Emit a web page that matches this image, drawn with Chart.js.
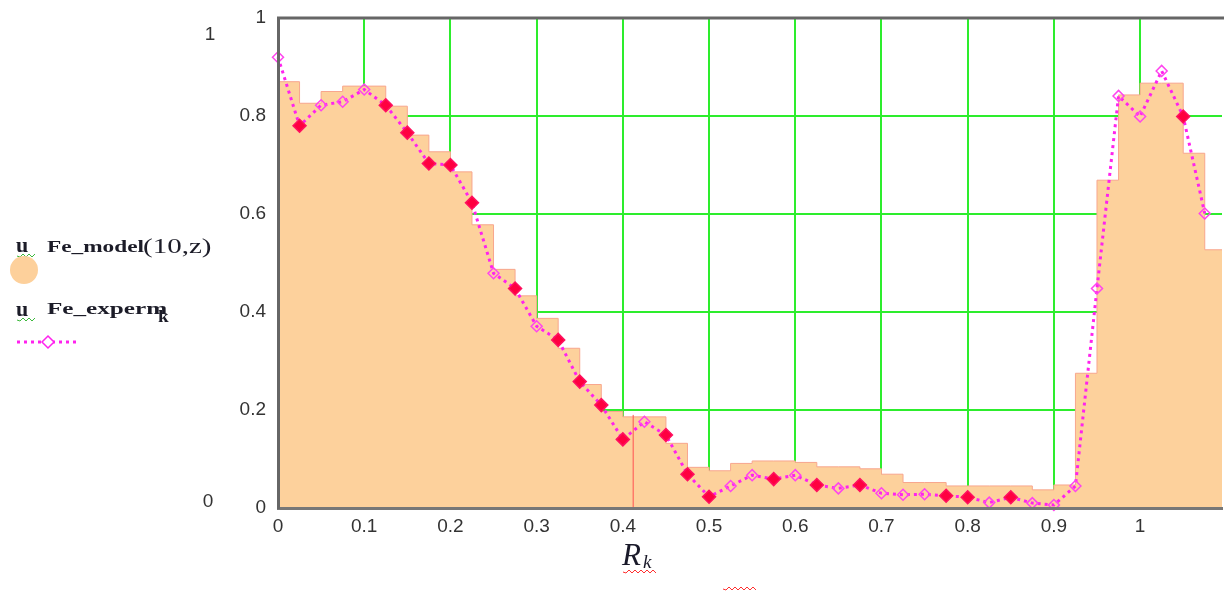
<!DOCTYPE html>
<html>
<head>
<meta charset="utf-8">
<script src="https://cdn.jsdelivr.net/npm/chart.js@4.4.1/dist/chart.umd.min.js"></script>
<style>
  html, body { margin: 0; padding: 0; background: #fff; }
  #wrap { width: 1224px; height: 591px; }
</style>
</head>
<body>
<div id="wrap"><canvas id="chart" width="1224" height="591"></canvas></div>
<script>
// R_k positions of the samples
const rPos = [0, 0.025, 0.05, 0.075, 0.1, 0.125, 0.15, 0.175, 0.2, 0.225,
              0.25, 0.275, 0.3, 0.325, 0.35, 0.375, 0.4, 0.425, 0.45, 0.475,
              0.5, 0.525, 0.55, 0.575, 0.6, 0.625, 0.65, 0.675, 0.7, 0.725,
              0.75, 0.775, 0.8, 0.825, 0.85, 0.875, 0.9, 0.925, 0.95, 0.975,
              1, 1.025, 1.05, 1.075];
const rEnd = 1.095;

// Fe_model(10,z) - step values
const feModel = [0.870, 0.826, 0.850, 0.861, 0.861, 0.820, 0.761, 0.727, 0.686, 0.578,
                 0.487, 0.433, 0.387, 0.326, 0.252, 0.197, 0.186, 0.186, 0.132, 0.083,
                 0.076, 0.091, 0.096, 0.096, 0.093, 0.084, 0.084, 0.080, 0.069, 0.052,
                 0.052, 0.045, 0.045, 0.045, 0.045, 0.037, 0.047, 0.275, 0.669, 0.843,
                 0.867, 0.867, 0.724, 0.527];

// Fe_experm_k
const feExperm = [0.920, 0.780, 0.822, 0.829, 0.854, 0.822, 0.766, 0.703, 0.700, 0.623,
                  0.479, 0.448, 0.371, 0.343, 0.258, 0.210, 0.140, 0.176, 0.149, 0.069,
                  0.023, 0.045, 0.067, 0.059, 0.067, 0.047, 0.040, 0.047, 0.030, 0.027,
                  0.028, 0.025, 0.022, 0.011, 0.022, 0.010, 0.006, 0.045, 0.448, 0.841,
                  0.799, 0.892, 0.799, 0.601];

// thin red marker line
const markX = [0.412, 0.412];
const markY = [0, 0.19];

const xTickLabels = ['0', '0.1', '0.2', '0.3', '0.4', '0.5', '0.6', '0.7', '0.8', '0.9', '1'];
const yTickLabels = ['0', '0.2', '0.4', '0.6', '0.8', '1'];

// points drawn as solid red diamonds
const solidPts = [1, 5, 6, 7, 8, 9, 11, 13, 14, 15, 16, 18, 19, 20, 23, 25, 27, 31, 32, 34, 42];

const modelData = rPos.map((x, i) => ({ x: x, y: feModel[i] }));
modelData.push({ x: rEnd, y: feModel[feModel.length - 1] });
const expData = rPos.map((x, i) => ({ x: x, y: feExperm[i] }));
const markData = markX.map((x, i) => ({ x: x, y: markY[i] }));

function squiggle(ctx, x0, x1, y, color) {
    ctx.save();
    ctx.strokeStyle = color;
    ctx.lineWidth = 1;
    ctx.beginPath();
    let up = true;
    for (let x = x0; x <= x1; x += 3) {
        if (x === x0) ctx.moveTo(x, y);
        else ctx.lineTo(x, up ? y - 2 : y + 1);
        up = !up;
    }
    ctx.stroke();
    ctx.restore();
}

function stretched(ctx, txt, x, y, font, sx) {
    ctx.save();
    ctx.translate(x, y);
    ctx.scale(sx, 1);
    ctx.font = font;
    ctx.fillText(txt, 0, 0);
    ctx.restore();
}

const decorations = {
    id: 'decorations',
    afterDraw(chart) {
        const ctx = chart.ctx;
        const a = chart.chartArea;
        ctx.save();
        // top border
        ctx.strokeStyle = '#666';
        ctx.lineWidth = 3;
        ctx.beginPath();
        ctx.moveTo(a.left - 1, a.top);
        ctx.lineTo(chart.width, a.top);
        ctx.stroke();

        ctx.textBaseline = 'alphabetic';
        ctx.textAlign = 'left';

        // legend
        ctx.fillStyle = '#1c1c28';
        ctx.font = 'bold 22px "Liberation Serif"';
        ctx.fillText('u', 16, 252);
        squiggle(ctx, 17, 35, 256, '#3cb83c');
        stretched(ctx, 'Fe_model', 47, 252, 'bold 17px "Liberation Serif"', 1.37);
        stretched(ctx, '(10,z)', 143, 253, '20px "Liberation Serif"', 1.45);

        ctx.fillStyle = '#fdd09b';
        ctx.beginPath();
        ctx.arc(24, 270, 14, 0, Math.PI * 2);
        ctx.fill();

        ctx.fillStyle = '#1c1c28';
        ctx.font = 'bold 22px "Liberation Serif"';
        ctx.fillText('u', 16, 316);
        squiggle(ctx, 17, 35, 320, '#3cb83c');
        stretched(ctx, 'Fe_experm', 47, 314, 'bold 17px "Liberation Serif"', 1.48);
        stretched(ctx, 'k', 158, 322, 'bold 16px "Liberation Serif"', 1.2);

        ctx.strokeStyle = '#ff22ee';
        ctx.lineWidth = 3;
        ctx.setLineDash([3, 4]);
        ctx.beginPath();
        ctx.moveTo(17, 342);
        ctx.lineTo(76, 342);
        ctx.stroke();
        ctx.setLineDash([]);
        ctx.lineWidth = 1.5;
        ctx.fillStyle = '#fff';
        ctx.beginPath();
        ctx.moveTo(48, 336); ctx.lineTo(54, 342); ctx.lineTo(48, 348); ctx.lineTo(42, 342);
        ctx.closePath();
        ctx.fill();
        ctx.stroke();

        // axis limit labels
        ctx.fillStyle = '#333';
        ctx.font = '19px "Liberation Sans"';
        ctx.textAlign = 'center';
        ctx.textBaseline = 'middle';
        ctx.fillText('1', 210, 35);
        ctx.fillText('0', 208, 502);

        // axis title R_k
        ctx.textAlign = 'left';
        ctx.textBaseline = 'alphabetic';
        ctx.fillStyle = '#1a1a2a';
        ctx.font = 'italic 31px "Liberation Serif"';
        ctx.fillText('R', 622, 565);
        ctx.font = 'italic 19px "Liberation Serif"';
        ctx.fillText('k', 643, 568);
        squiggle(ctx, 623, 656, 572, '#ff3030');
        squiggle(ctx, 723, 757, 589, '#ff3030');
        ctx.restore();
    }
};

const ctx1 = document.getElementById('chart').getContext('2d');
const chart = new Chart(ctx1, {
    type: 'line',
    data: {
        datasets: [
            {
                label: 'Fe_experm',
                data: expData,
                order: 0,
                borderColor: '#ff22ee',
                borderWidth: 3,
                borderDash: [3, 4],
                fill: false,
                tension: 0,
                clip: 8,
                pointStyle: 'rectRot',
                pointRadius: ctx => solidPts.includes(ctx.dataIndex) ? 6.5 : 5.5,
                pointBackgroundColor: ctx => solidPts.includes(ctx.dataIndex) ? '#ff0040' : 'rgba(255,255,255,0)',
                pointBorderColor: ctx => solidPts.includes(ctx.dataIndex) ? '#ff1060' : '#ff44ee',
                pointBorderWidth: 1.5
            },
            {
                label: 'mark',
                data: markData,
                order: 1,
                borderColor: '#ff5050',
                borderWidth: 1,
                pointRadius: 0,
                fill: false
            },
            {
                label: 'Fe_model(10,z)',
                data: modelData,
                order: 2,
                stepped: 'before',
                fill: 'origin',
                backgroundColor: '#fdd19c',
                borderColor: '#f8a68e',
                borderWidth: 1,
                pointRadius: 0,
                tension: 0
            }
        ]
    },
    options: {
        responsive: false,
        animation: false,
        events: [],
        layout: { autoPadding: false, padding: { top: 18, right: 2, left: 0, bottom: 0 } },
        scales: {
            x: {
                type: 'linear',
                min: 0,
                max: rEnd,
                afterFit: s => { s.height = 83; s.paddingLeft = 0; s.paddingRight = 0; },
                grid: { color: '#2ded2d', lineWidth: 2, drawTicks: false },
                border: { color: '#777', width: 3, z: 1 },
                ticks: {
                    stepSize: 0.1,
                    includeBounds: false,
                    padding: 7,
                    color: '#333',
                    font: { family: 'Liberation Sans', size: 19 },
                    maxRotation: 0,
                    autoSkip: false,
                    callback: (v, i) => xTickLabels[i]
                }
            },
            y: {
                min: 0,
                max: 1,
                afterFit: s => { s.width = 278; s.paddingTop = 0; s.paddingBottom = 0; },
                grid: { color: '#2ded2d', lineWidth: 2, drawTicks: false },
                border: { color: '#666', width: 3, z: 1 },
                ticks: {
                    stepSize: 0.2,
                    padding: 12,
                    color: '#333',
                    font: { family: 'Liberation Sans', size: 19 },
                    callback: (v, i) => yTickLabels[i]
                }
            }
        },
        plugins: {
            legend: { display: false },
            tooltip: { enabled: false }
        }
    },
    plugins: [decorations]
});
</script>
</body>
</html>
